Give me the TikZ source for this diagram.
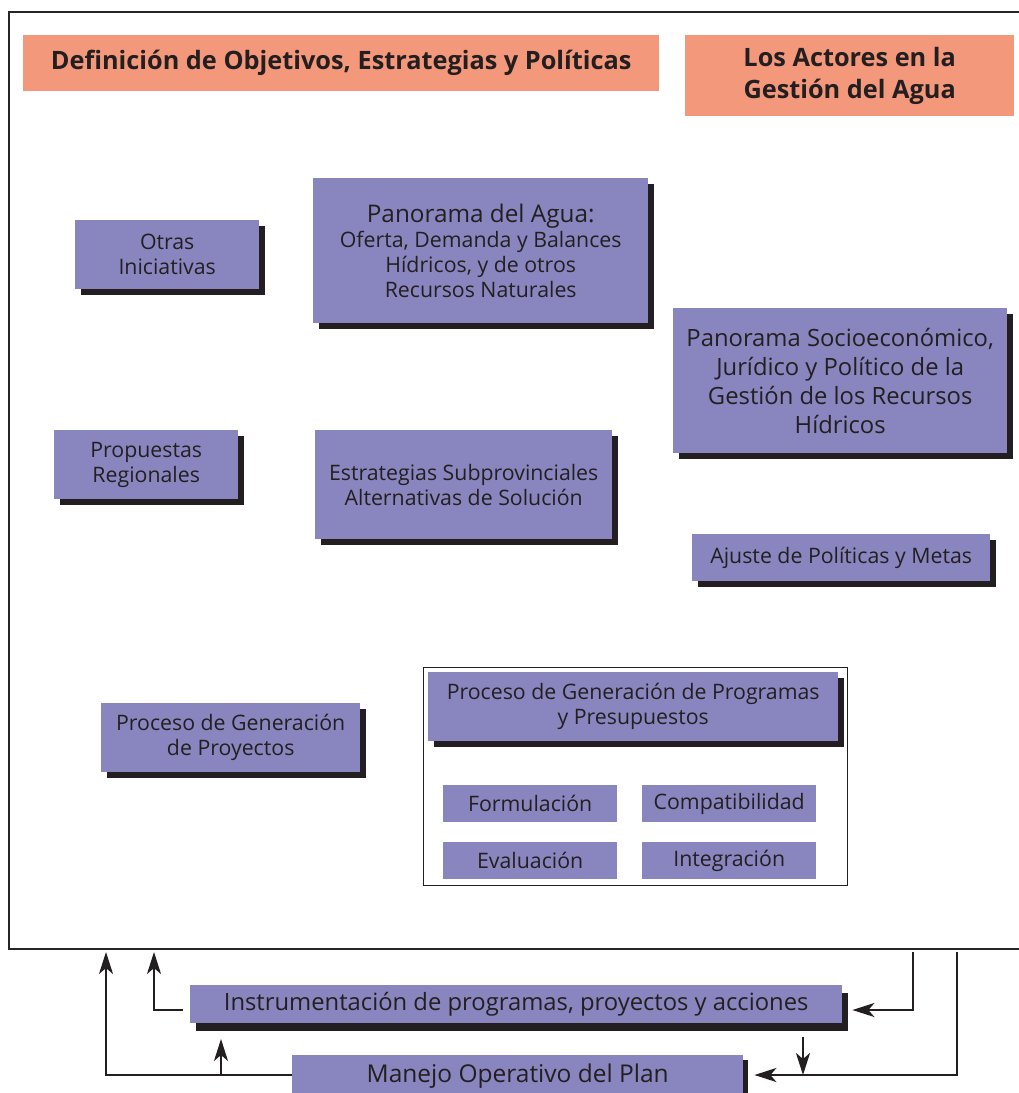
\documentclass[tikz,border=0pt]{standalone}
\usepackage{fontspec}
\setmainfont{Open Sans}
\usetikzlibrary{arrows.meta,shadows,calc}
\definecolor{pur}{HTML}{8885BF}
\definecolor{sal}{HTML}{F4987C}
\definecolor{ink}{HTML}{231F20}
\begin{document}
\begin{tikzpicture}[x=1pt,y=-1pt,
 pbox/.style={fill=pur, inner sep=0pt, anchor=north west, align=center, text=ink, font=\fontsize{21.3}{25}\selectfont},
 shd/.style={general shadow={fill=ink, shadow xshift=6pt, shadow yshift=-6pt}},
 sbox/.style={fill=sal, inner sep=0pt, anchor=north west, align=center, text=ink, font=\bfseries\fontsize{25.3}{32}\selectfont},
 arr/.style={draw=ink, line width=2.2pt, -{Stealth[length=22pt,width=14pt,inset=6pt]}},
]
\useasboundingbox (0,0) rectangle (1018,1093);
% outer frame
\draw[line width=2.5pt, draw=black!85] (1030,12) -- (9,12) -- (9,949) -- (1030,949);

% titles
\node[sbox, minimum width=636, minimum height=56] (t1) at (23,35) {Definición de Objetivos, Estrategias y Políticas};
\node[sbox, minimum width=329, minimum height=81] (t2) at (685,35) {Los Actores en la\\Gestión del Agua};

% purple boxes
\node[pbox, shd, minimum width=184, minimum height=69] (otras) at (75,220) {Otras\\Iniciativas};
\node[pbox, shd, minimum width=335, minimum height=145] (pagua) at (313,178) {{\fontsize{24.3}{25}\selectfont Panorama del Agua:}\\Oferta, Demanda y Balances\\Hídricos, y de otros\\Recursos Naturales};
\node[pbox, shd, minimum width=334, minimum height=145, font=\fontsize{23.8}{29}\selectfont] (psocio) at (673,308) {Panorama Socioeconómico,\\Jurídico y Político de la\\Gestión de los Recursos\\Hídricos};
\node[pbox, shd, minimum width=184, minimum height=69] (prop) at (54,430) {Propuestas\\Regionales};
\node[pbox, shd, minimum width=297, minimum height=109] (estr) at (315,430) {Estrategias Subprovinciales\\Alternativas de Solución};
\node[pbox, shd, minimum width=298, minimum height=47] (ajuste) at (692,534) {Ajuste de Políticas y Metas};
\node[pbox, shd, minimum width=259, minimum height=69] (proy) at (101,703) {Proceso de Generación\\de Proyectos};

% programs frame
\node[draw=ink, line width=1.2pt, inner sep=0pt, anchor=north west, minimum width=424, minimum height=218] (pframe) at (423,667) {};
\node[pbox, shd, minimum width=410, minimum height=69] (prog) at (428,672) {Proceso de Generación de Programas\\y Presupuestos};
\node[pbox, minimum width=174, minimum height=37] (form) at (443,785) {Formulación};
\node[pbox, minimum width=174, minimum height=37] (comp) at (642,785) {Compatibilidad};
\node[pbox, minimum width=174, minimum height=37] (eval) at (443,842) {Evaluación};
\node[pbox, minimum width=174, minimum height=37] (integ) at (642,842) {Integración};

% bottom boxes
\node[pbox, general shadow={fill=ink, shadow xshift=6pt, shadow yshift=-8pt}, minimum width=652, minimum height=38, font=\fontsize{23.8}{25}\selectfont] (instr) at (190,985) {Instrumentación de programas, proyectos y acciones};
\node[pbox, general shadow={fill=ink, shadow xshift=5pt, shadow yshift=-5pt}, minimum width=451, minimum height=42, font=\fontsize{24.5}{25}\selectfont] (manejo) at (292,1055) {Manejo Operativo del Plan};

% connector coordinates
\coordinate (fL) at (106,952);
\coordinate (fL2) at (154,952);
\coordinate (fR) at (913,952);
\coordinate (fR2) at (957,952);
\coordinate (bL) at (106,1075);
\coordinate (bB) at (221,1075);
\coordinate (mD) at (803,1037);

% connectors
\draw[arr] (manejo.west |- bL) -- (bL) -- (fL);
\draw[arr] (bB) -- (221,1039);
\draw[arr] ([xshift=-7pt]instr.west |- 0,1010) -| (fL2);
\draw[arr] (fR) |- ([xshift=10pt]instr.east |- 0,1010);
\draw[arr] (fR2) |- ([xshift=11pt]manejo.east |- bL);
\draw[arr] (mD) -- (mD |- bL);
\end{tikzpicture}
\end{document}
